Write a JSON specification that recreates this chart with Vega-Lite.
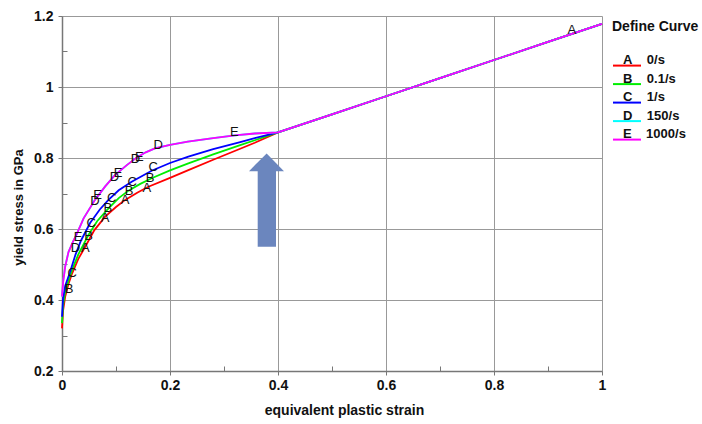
{
  "$schema": "https://vega.github.io/schema/vega-lite/v6.json",
  "autosize": "none",
  "width": 540,
  "height": 355,
  "padding": {"left": 62, "top": 16, "right": 100, "bottom": 53},
  "background": "white",
  "config": {"view": {"stroke": null}, "font": "Liberation Sans"},
  "datasets": {
    "curves": [
      {"curve":"A","x":0,"y":0.32},{"curve":"A","x":0.002,"y":0.37},{"curve":"A","x":0.006,"y":0.41},{"curve":"A","x":0.012,"y":0.445},{"curve":"A","x":0.018,"y":0.472},{"curve":"A","x":0.03,"y":0.515},{"curve":"A","x":0.043,"y":0.55},{"curve":"A","x":0.06,"y":0.597},{"curve":"A","x":0.08,"y":0.635},{"curve":"A","x":0.1,"y":0.662},{"curve":"A","x":0.117,"y":0.682},{"curve":"A","x":0.14,"y":0.703},{"curve":"A","x":0.16,"y":0.719},{"curve":"A","x":0.2,"y":0.744},{"curve":"A","x":0.234,"y":0.766},{"curve":"A","x":0.28,"y":0.795},{"curve":"A","x":0.33,"y":0.826},{"curve":"A","x":0.357,"y":0.843},{"curve":"A","x":0.4,"y":0.872},{"curve":"A","x":0.5,"y":0.923},{"curve":"A","x":0.6,"y":0.974},{"curve":"A","x":0.7,"y":1.025},{"curve":"A","x":0.8,"y":1.076},{"curve":"A","x":0.9,"y":1.127},{"curve":"A","x":1.0,"y":1.178},
      {"curve":"B","x":0,"y":0.335},{"curve":"B","x":0.002,"y":0.385},{"curve":"B","x":0.006,"y":0.425},{"curve":"B","x":0.012,"y":0.455},{"curve":"B","x":0.02,"y":0.49},{"curve":"B","x":0.03,"y":0.528},{"curve":"B","x":0.049,"y":0.583},{"curve":"B","x":0.065,"y":0.622},{"curve":"B","x":0.086,"y":0.658},{"curve":"B","x":0.105,"y":0.687},{"curve":"B","x":0.123,"y":0.708},{"curve":"B","x":0.145,"y":0.727},{"curve":"B","x":0.166,"y":0.743},{"curve":"B","x":0.2,"y":0.765},{"curve":"B","x":0.234,"y":0.785},{"curve":"B","x":0.28,"y":0.81},{"curve":"B","x":0.33,"y":0.836},{"curve":"B","x":0.357,"y":0.85},{"curve":"B","x":0.4,"y":0.872},{"curve":"B","x":0.5,"y":0.923},{"curve":"B","x":0.6,"y":0.974},{"curve":"B","x":0.7,"y":1.025},{"curve":"B","x":0.8,"y":1.076},{"curve":"B","x":0.9,"y":1.127},{"curve":"B","x":1.0,"y":1.178},
      {"curve":"C","x":0,"y":0.353},{"curve":"C","x":0.002,"y":0.405},{"curve":"C","x":0.006,"y":0.44},{"curve":"C","x":0.0148,"y":0.478},{"curve":"C","x":0.025,"y":0.528},{"curve":"C","x":0.035,"y":0.567},{"curve":"C","x":0.052,"y":0.617},{"curve":"C","x":0.07,"y":0.655},{"curve":"C","x":0.086,"y":0.682},{"curve":"C","x":0.105,"y":0.709},{"curve":"C","x":0.129,"y":0.733},{"curve":"C","x":0.166,"y":0.764},{"curve":"C","x":0.2,"y":0.786},{"curve":"C","x":0.234,"y":0.804},{"curve":"C","x":0.28,"y":0.825},{"curve":"C","x":0.33,"y":0.845},{"curve":"C","x":0.357,"y":0.856},{"curve":"C","x":0.4,"y":0.872},{"curve":"C","x":0.5,"y":0.923},{"curve":"C","x":0.6,"y":0.974},{"curve":"C","x":0.7,"y":1.025},{"curve":"C","x":0.8,"y":1.076},{"curve":"C","x":0.9,"y":1.127},{"curve":"C","x":1.0,"y":1.178},
      {"curve":"D","x":0,"y":0.41},{"curve":"D","x":0.002,"y":0.45},{"curve":"D","x":0.006,"y":0.495},{"curve":"D","x":0.012,"y":0.535},{"curve":"D","x":0.02,"y":0.563},{"curve":"D","x":0.027,"y":0.585},{"curve":"D","x":0.04,"y":0.63},{"curve":"D","x":0.061,"y":0.682},{"curve":"D","x":0.08,"y":0.72},{"curve":"D","x":0.098,"y":0.752},{"curve":"D","x":0.12,"y":0.78},{"curve":"D","x":0.138,"y":0.801},{"curve":"D","x":0.155,"y":0.816},{"curve":"D","x":0.172,"y":0.827},{"curve":"D","x":0.2,"y":0.837},{"curve":"D","x":0.233,"y":0.846},{"curve":"D","x":0.28,"y":0.856},{"curve":"D","x":0.32,"y":0.864},{"curve":"D","x":0.357,"y":0.869},{"curve":"D","x":0.4,"y":0.872},{"curve":"D","x":0.5,"y":0.923},{"curve":"D","x":0.6,"y":0.974},{"curve":"D","x":0.7,"y":1.025},{"curve":"D","x":0.8,"y":1.076},{"curve":"D","x":0.9,"y":1.127},{"curve":"D","x":1.0,"y":1.178},
      {"curve":"E","x":0,"y":0.41},{"curve":"E","x":0.002,"y":0.45},{"curve":"E","x":0.006,"y":0.495},{"curve":"E","x":0.012,"y":0.535},{"curve":"E","x":0.02,"y":0.563},{"curve":"E","x":0.027,"y":0.585},{"curve":"E","x":0.04,"y":0.63},{"curve":"E","x":0.061,"y":0.682},{"curve":"E","x":0.08,"y":0.72},{"curve":"E","x":0.098,"y":0.752},{"curve":"E","x":0.12,"y":0.78},{"curve":"E","x":0.138,"y":0.801},{"curve":"E","x":0.155,"y":0.816},{"curve":"E","x":0.172,"y":0.827},{"curve":"E","x":0.2,"y":0.837},{"curve":"E","x":0.233,"y":0.846},{"curve":"E","x":0.28,"y":0.856},{"curve":"E","x":0.32,"y":0.864},{"curve":"E","x":0.357,"y":0.869},{"curve":"E","x":0.4,"y":0.872},{"curve":"E","x":0.5,"y":0.923},{"curve":"E","x":0.6,"y":0.974},{"curve":"E","x":0.7,"y":1.025},{"curve":"E","x":0.8,"y":1.076},{"curve":"E","x":0.9,"y":1.127},{"curve":"E","x":1.0,"y":1.178}
    ],
    "labels": [
      {"label":"A","x":0.043,"y":0.546},{"label":"A","x":0.08,"y":0.63},{"label":"A","x":0.117,"y":0.682},{"label":"A","x":0.157,"y":0.716},{"label":"A","x":0.944,"y":1.16},
      {"label":"B","x":0.013,"y":0.43},{"label":"B","x":0.049,"y":0.58},{"label":"B","x":0.085,"y":0.658},{"label":"B","x":0.124,"y":0.708},{"label":"B","x":0.163,"y":0.745},
      {"label":"C","x":0.019,"y":0.475},{"label":"C","x":0.054,"y":0.616},{"label":"C","x":0.092,"y":0.686},{"label":"C","x":0.13,"y":0.733},{"label":"C","x":0.169,"y":0.774},
      {"label":"D","x":0.025,"y":0.546},{"label":"D","x":0.061,"y":0.679},{"label":"D","x":0.097,"y":0.747},{"label":"D","x":0.136,"y":0.796},{"label":"D","x":0.178,"y":0.837},
      {"label":"E","x":0.03,"y":0.577},{"label":"E","x":0.066,"y":0.696},{"label":"E","x":0.104,"y":0.757},{"label":"E","x":0.143,"y":0.804},{"label":"E","x":0.319,"y":0.874}
    ],
    "shaft": [{"x":0.3624,"x2":0.3963,"y":0.55,"y2":0.77}],
    "head": [{"x":0.3463,"y":0.763,"y2":0.763},{"x":0.379,"y":0.813,"y2":0.763},{"x":0.4111,"y":0.763,"y2":0.763}]
  },
  "encoding": {
    "x": {
      "field": "x", "type": "quantitative",
      "scale": {"domain": [0, 1], "nice": false, "zero": false},
      "axis": {
        "title": "equivalent plastic strain",
        "values": [0,0.1,0.2,0.3,0.4,0.5,0.6,0.7,0.8,0.9,1],
        "format": "~g",
        "labelExpr": "round(datum.value*10)%2==0 ? datum.label : ''",
        "labelOverlap": false, "labelFlush": false,
        "grid": true,
        "gridColor": "#999999", "gridWidth": 1,
        "gridOpacity": {"condition": {"test": "round(datum.value*10)%2==0", "value": 1}, "value": 0},
        "tickSize": {"condition": {"test": "round(datum.value*10)%2==0", "value": 4}, "value": -5},
        "tickColor": "#777777", "tickWidth": 1,
        "domainColor": "#777777", "domainWidth": 1.5,
        "labelFont": "Liberation Sans", "labelFontSize": 14, "labelFontWeight": "bold", "labelColor": "#111111", "labelPadding": 3,
        "titleFont": "Liberation Sans", "titleFontSize": 14, "titleFontWeight": "bold", "titleColor": "#111111",
        "titleX": 282, "titleY": 39, "titleBaseline": "middle", "titleAlign": "center"
      }
    },
    "y": {
      "field": "y", "type": "quantitative",
      "scale": {"domain": [0.2, 1.2], "nice": false, "zero": false},
      "axis": {
        "title": "yield stress in GPa",
        "values": [0.2,0.3,0.4,0.5,0.6,0.7,0.8,0.9,1,1.1,1.2],
        "format": "~g",
        "labelExpr": "round(datum.value*10)%2==0 ? datum.label : ''",
        "labelOverlap": false, "labelFlush": false,
        "grid": true,
        "gridColor": "#999999", "gridWidth": 1,
        "gridOpacity": {"condition": {"test": "round(datum.value*10)%2==0", "value": 1}, "value": 0},
        "tickSize": {"condition": {"test": "round(datum.value*10)%2==0", "value": 4}, "value": -5},
        "tickColor": "#777777", "tickWidth": 1,
        "domainColor": "#777777", "domainWidth": 1.5,
        "labelFont": "Liberation Sans", "labelFontSize": 14, "labelFontWeight": "bold", "labelColor": "#111111", "labelPadding": 5,
        "titleFont": "Liberation Sans", "titleFontSize": 13, "titleFontWeight": "bold", "titleColor": "#111111",
        "titleX": -44, "titleY": 191, "titleAngle": -90, "titleBaseline": "middle", "titleAlign": "center"
      }
    }
  },
  "layer": [
    {
      "data": {"name": "shaft"},
      "mark": {"type": "rect", "color": "#6B86BE"},
      "encoding": {"x2": {"field": "x2"}, "y2": {"field": "y2"}}
    },
    {
      "data": {"name": "head"},
      "mark": {"type": "area", "color": "#6B86BE"},
      "encoding": {"y2": {"field": "y2"}}
    },
    {
      "data": {"name": "curves"},
      "mark": {"type": "line", "strokeWidth": 1.8},
      "encoding": {
        "color": {
          "field": "curve", "type": "nominal",
          "scale": {"domain": ["A","B","C","D","E"], "range": ["#ff0000","#00ee00","#0000ff","#00ffff","#ff00ff"]},
          "legend": {
            "title": "Define Curve",
            "orient": "none", "legendX": 550, "legendY": 4,
            "padding": 0,
            "titleFont": "Liberation Sans", "titleFontSize": 14, "titleFontWeight": "bold", "titleColor": "#111111", "titlePadding": 18,
            "symbolType": "M-2,0.8L2,0.8", "symbolSize": 196, "symbolStrokeWidth": 2, "symbolOffset": 7,
            "labelFont": "Liberation Sans", "labelFontSize": 13, "labelFontWeight": "bold", "labelColor": "#111111",
            "labelOffset": -12, "rowPadding": 0.5,
            "labelExpr": "{'A':'A\u00a0\u00a0\u00a0 0/s','B':'B\u00a0\u00a0\u00a0 0.1/s','C':'C\u00a0\u00a0\u00a0 1/s','D':'D\u00a0\u00a0\u00a0 150/s','E':'E\u00a0\u00a0\u00a0 1000/s'}[datum.label]"
          }
        }
      }
    },
    {
      "data": {"name": "labels"},
      "mark": {"type": "text", "font": "Liberation Sans", "fontSize": 13, "color": "#111111", "align": "center", "baseline": "middle"},
      "encoding": {"text": {"field": "label"}}
    }
  ]
}
